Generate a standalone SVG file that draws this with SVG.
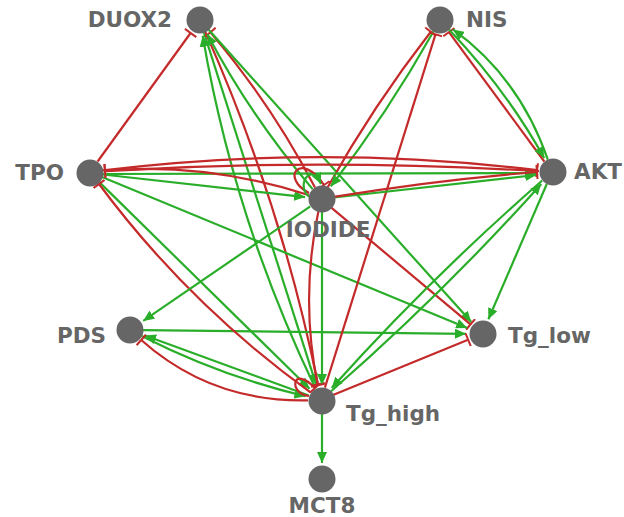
<svg xmlns="http://www.w3.org/2000/svg" width="624" height="517" viewBox="0 0 624 517">
<style>
.g{fill:none;stroke:#2aae2a;stroke-width:2.2;marker-end:url(#ag)}
.r{fill:none;stroke:#c42a2a;stroke-width:2.2;marker-end:url(#tr)}
.n{fill:#666}
.lb{font-family:"DejaVu Sans",Verdana,sans-serif;font-weight:bold;font-size:21.5px;fill:#666}
</style>
<defs>
<marker id="ag" markerWidth="12" markerHeight="10" refX="11" refY="5" orient="auto" markerUnits="userSpaceOnUse"><path d="M0,0 L11,5 L0,10 z" fill="#2aae2a"/></marker>
<marker id="tr" markerWidth="4" markerHeight="14" refX="2" refY="7" orient="auto" markerUnits="userSpaceOnUse"><path d="M2,0 L2,14" stroke="#c42a2a" stroke-width="2"/></marker>
</defs>
<rect width="624" height="517" fill="#fff"/>
<g id="connectors">
<path class="r" d="M97.6,161.5 L190.6,33"/>
<path class="g" d="M315.4,388.3 Q233.8,218.5 202.7,35.8"/>
<path class="g" d="M203.9,32.4 L316.2,384.8"/>
<path class="r" d="M205.3,31.9 Q281.5,203.3 317.9,384.3"/>
<path class="r" d="M315,187.5 Q270.5,102.8 210.4,32.2"/>
<path class="g" d="M312.6,189.1 Q250.5,116.2 207.4,34.2"/>
<path class="g" d="M208.7,29.7 L471.3,322.1"/>
<path class="r" d="M331,207.4 L470.5,324.4"/>
<path class="g" d="M102,177 L467.2,327.9"/>
<path class="g" d="M143,330.1 L466,333.8"/>
<path class="r" d="M333,395 L468.1,339.7"/>
<path class="g" d="M546.8,184 L488.4,319.3"/>
<path class="r" d="M327.4,187.7 Q373.8,105.1 430.8,31.8"/>
<path class="g" d="M433.6,31.3 Q387.2,113.9 330.8,186.4"/>
<path class="r" d="M324.9,387.6 L435.5,34.3"/>
<path class="r" d="M544.3,161.5 L448.9,32.1"/>
<path class="g" d="M547.8,159.7 Q520,78 453,29.4"/>
<path class="g" d="M449,29.4 Q505.7,88.9 544.2,158"/>
<path class="g" d="M103,174 L536,173"/>
<path class="r" d="M102.9,170.4 Q321,144 537.1,170.2"/>
<path class="r" d="M539,171.2 Q321,158 105,171.1"/>
<path class="g" d="M333.9,197.5 L536.1,175"/>
<path class="r" d="M333.8,196.9 Q436.5,180 537,172"/>
<path class="g" d="M330.8,391.5 Q443.5,293.1 541.3,183.9"/>
<path class="g" d="M542.2,180.5 Q429.5,278.9 331.7,388.1"/>
<path class="g" d="M102.9,174.5 L305.1,197.1"/>
<path class="r" d="M308.6,195 Q205.5,162 104.9,170.7"/>
<path class="g" d="M99.3,182.1 L309.6,388.8"/>
<path class="r" d="M310.5,392.4 Q188,303.8 99,184"/>
<path class="g" d="M310.3,206.4 L143.2,320.9"/>
<path class="g" d="M308.8,395.5 L145,335.5"/>
<path class="g" d="M141.6,335.9 Q221.4,376.3 305.4,396.3"/>
<path class="r" d="M308,400.3 Q211.7,402.6 141.2,340"/>
<path class="g" d="M322,212 L322,385"/>
<path class="r" d="M318.3,211.7 Q300,300 317.9,385.3"/>
<path class="g" d="M322,414 L322,463"/>
<path class="r" d="M309,193 C280,178 300,150 324,185"/>
<path class="g" d="M310,197 C295,188 310,160 321,184"/>
<path class="r" d="M309,396 C288,394 292,364 315,388"/>
</g>
<g id="DUOX2"><circle class="n" cx="200" cy="20" r="13.5"/><text class="lb" x="172" y="27" text-anchor="end">DUOX2</text></g>
<g id="NIS"><circle class="n" cx="440" cy="20" r="13.5"/><text class="lb" x="466" y="27">NIS</text></g>
<g id="TPO"><circle class="n" cx="90" cy="173" r="13.5"/><text class="lb" x="64" y="180" text-anchor="end">TPO</text></g>
<g id="IODIDE"><circle class="n" cx="322" cy="199" r="13.5"/><text class="lb" x="328" y="237" text-anchor="middle">IODIDE</text></g>
<g id="AKT"><circle class="n" cx="553" cy="172" r="13.5"/><text class="lb" x="574" y="179">AKT</text></g>
<g id="PDS"><circle class="n" cx="130" cy="330" r="13.5"/><text class="lb" x="106" y="343" text-anchor="end">PDS</text></g>
<g id="Tg_low"><circle class="n" cx="483" cy="334" r="13.5"/><text class="lb" x="508" y="343">Tg_low</text></g>
<g id="Tg_high"><circle class="n" cx="322" cy="401" r="13.5"/><text class="lb" x="346" y="421">Tg_high</text></g>
<g id="MCT8"><circle class="n" cx="322" cy="479" r="13.5"/><text class="lb" x="322" y="513" text-anchor="middle">MCT8</text></g>
</svg>
